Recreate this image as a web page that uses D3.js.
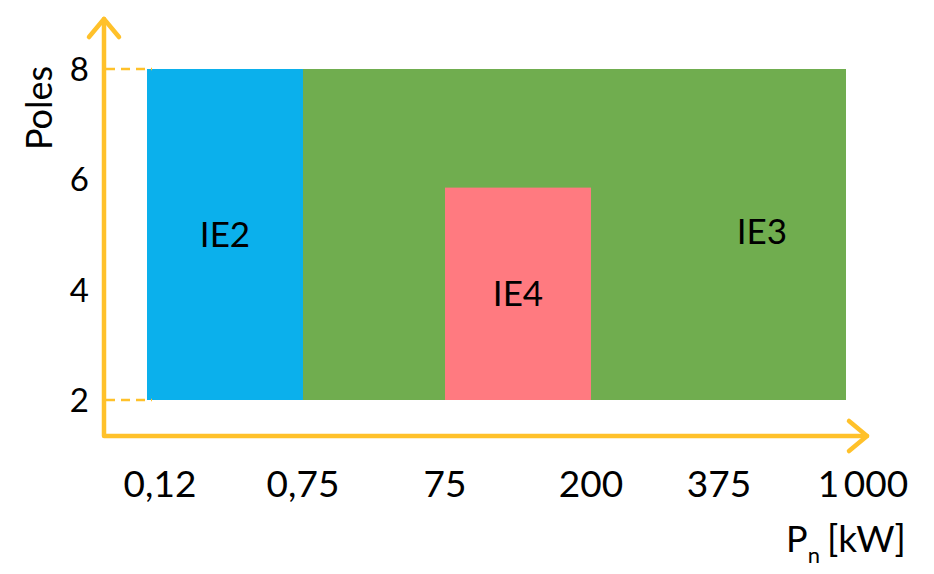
<!DOCTYPE html>
<html><head><meta charset="utf-8">
<script src="https://cdn.jsdelivr.net/npm/d3@7"></script>
<style>body{margin:0;background:#fff;}svg{display:block;font-family:Lato,"Open Sans",sans-serif;}</style>
</head><body>
<svg id="c" width="934" height="574"></svg>
<script>
// ---- data ----
const powerTicks = [0.12, 0.75, 75, 200, 375, 1000];
const powerLabels = ["0,12", "0,75", "75", "200", "375", "1\u2009000"];
const poleTicks = [2, 4, 6, 8];
const classes = ["IE2", "IE3", "IE4"];
const classFrom = [0.12, 0.75, 75];
const classTo = [0.75, 1000, 200];
const classPolesMin = [2, 2, 2];
const classPolesMax = [8, 8, 5.85];
const classColors = ["#0BB0EC", "#70AD4F", "#FF7A80"];

// ---- layout ----
const svg = d3.select("#c");
const axisColor = "#FFC12A";
const x = d3.scaleLinear().domain(powerTicks).range([147, 303, 445, 591, 719, 846]);
const y = d3.scaleLinear().domain([2, 8]).range([400, 69]);
const labelNudge = [13, 0, 0, 0, 0, 17];

// bars (IE3 under IE4)
const order = [0, 1, 2];
svg.append("g").selectAll("rect").data(order).join("rect")
  .attr("x", i => x(classFrom[i]))
  .attr("width", i => x(classTo[i]) - x(classFrom[i]))
  .attr("y", i => y(classPolesMax[i]))
  .attr("height", i => y(classPolesMin[i]) - y(classPolesMax[i]))
  .attr("fill", i => classColors[i]);

// class labels
const labelX = i => i === 1 ? x(200) + (x(1000) - x(200)) * 0.67 : (x(classFrom[i]) + x(classTo[i])) / 2;
const labelY = i => i === 1 ? y(5.05) : (y(classPolesMin[i]) + y(classPolesMax[i])) / 2;
svg.append("g").selectAll("text").data(order).join("text")
  .attr("x", i => labelX(i))
  .attr("y", i => labelY(i))
  .attr("dy", "0.36em")
  .attr("text-anchor", "middle")
  .attr("font-size", 35)
  .attr("fill", "#000")
  .text(i => classes[i]);

// dashed guide ticks for 2 and 8
svg.append("g").selectAll("line").data([2, 8]).join("line")
  .attr("x1", 106).attr("x2", x(0.12) + 5)
  .attr("y1", d => y(d)).attr("y2", d => y(d))
  .attr("stroke", axisColor).attr("stroke-width", 2.5)
  .attr("stroke-dasharray", "9,6");

// axes
const ax = svg.append("g").attr("fill", "none").attr("stroke", axisColor)
  .attr("stroke-width", 4.5).attr("stroke-linecap", "round").attr("stroke-linejoin", "round");
ax.append("path").attr("d", "M104,19 L104,436 L867,436");
ax.append("path").attr("d", "M89,37 L104,19 L119,37");
ax.append("path").attr("d", "M849,421 L867,436 L849,451");

// y tick labels
svg.append("g").selectAll("text").data(poleTicks).join("text")
  .attr("x", 89).attr("y", d => y(d))
  .attr("dy", "0.36em")
  .attr("text-anchor", "end")
  .attr("font-size", 33)
  .text(d => d);

// x tick labels
svg.append("g").selectAll("text").data(powerTicks).join("text")
  .attr("x", (d, i) => x(d) + labelNudge[i]).attr("y", 497)
  .attr("text-anchor", "middle")
  .attr("font-size", 37)
  .text((d, i) => powerLabels[i]);

// axis titles
svg.append("text")
  .attr("transform", "translate(52,108) rotate(-90)")
  .attr("text-anchor", "middle")
  .attr("font-size", 36)
  .text("Poles");

const t = svg.append("text").attr("x", 786).attr("y", 552).attr("font-size", 36);
t.append("tspan").text("P");
t.append("tspan").attr("font-size", 22).attr("dy", 11).text("n");
t.append("tspan").attr("dy", -11).attr("dx", 7).attr("font-size", 37).text("[kW]");
</script>
</body></html>
